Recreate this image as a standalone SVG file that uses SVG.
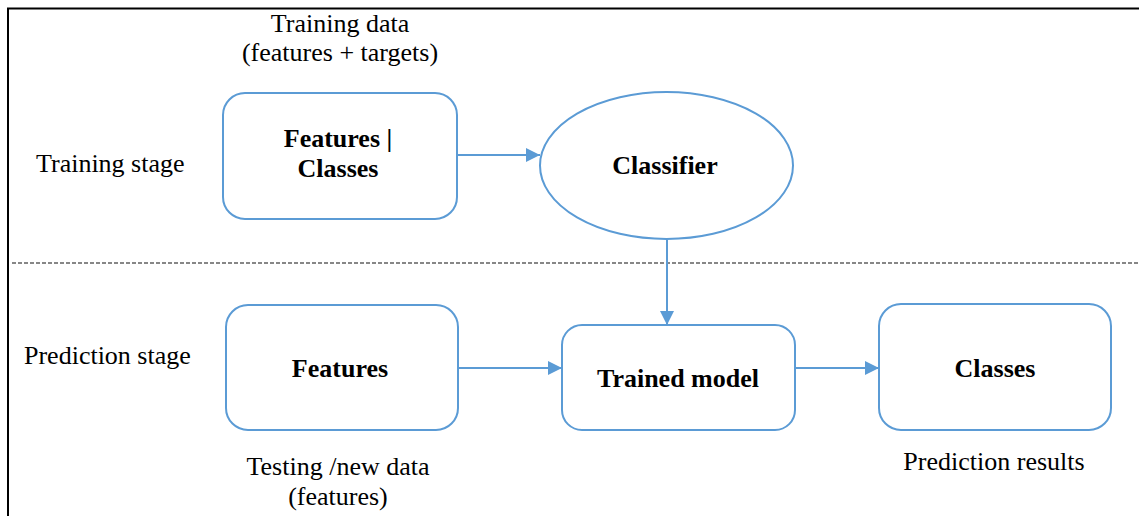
<svg xmlns="http://www.w3.org/2000/svg" width="1139" height="516" viewBox="0 0 1139 516">
  <style>
    .box { fill: #ffffff; stroke: #5b9bd5; stroke-width: 2; }
    .edge { fill: none; stroke: #5b9bd5; stroke-width: 2; }
    .bold { font-weight: bold; }
    .mid { text-anchor: middle; }
  </style>
  <defs>
    <marker id="arrowHead" viewBox="0 0 14 14" refX="14" refY="7" markerWidth="14" markerHeight="14" markerUnits="userSpaceOnUse" orient="auto">
      <path d="M0,0 L14,7 L0,14 Z" fill="#5b9bd5"/>
    </marker>
  </defs>

  <rect width="1139" height="516" fill="#ffffff"/>

  <!-- outer frame: top and left edges -->
  <g id="frame" stroke="#000000" stroke-width="2" fill="none">
    <line x1="7" y1="8.5" x2="1139" y2="8.5"/>
    <line x1="8" y1="8" x2="8" y2="516"/>
  </g>

  <!-- stage separator -->
  <line id="separator" x1="12" y1="263" x2="1139" y2="263" stroke="#111111" stroke-width="1.2" stroke-dasharray="4 2"/>

  <g font-family="Liberation Serif" font-size="26" fill="#000000">
    <!-- stage labels and captions -->
    <g id="captions">
      <text class="mid" x="340" y="32">Training data</text>
      <text class="mid" x="340" y="61">(features + targets)</text>
      <text x="36" y="172">Training stage</text>
      <text x="24" y="364">Prediction stage</text>
      <text class="mid" x="338" y="475">Testing /new data</text>
      <text class="mid" x="338" y="505">(features)</text>
      <text class="mid" x="994" y="470">Prediction results</text>
    </g>

    <g id="node-features-classes">
      <rect class="box" x="223" y="93" width="234" height="126" rx="22"/>
      <text class="bold mid" x="338" y="147">Features |</text>
      <text class="bold mid" x="338" y="177">Classes</text>
    </g>

    <g id="node-classifier">
      <ellipse class="box" cx="666.5" cy="165.5" rx="126.5" ry="73.5"/>
      <text class="bold mid" x="665" y="174">Classifier</text>
    </g>

    <g id="node-features">
      <rect class="box" x="226" y="305" width="232" height="125" rx="22"/>
      <text class="bold mid" x="340" y="377">Features</text>
    </g>

    <g id="node-trained-model">
      <rect class="box" x="562" y="325" width="233" height="105" rx="20"/>
      <text class="bold mid" x="678" y="387">Trained model</text>
    </g>

    <g id="node-classes">
      <rect class="box" x="879" y="304" width="232" height="126" rx="22"/>
      <text class="bold mid" x="995" y="377">Classes</text>
    </g>
  </g>

  <!-- connectors -->
  <g id="connectors">
    <line class="edge" x1="457" y1="155" x2="540" y2="155" marker-end="url(#arrowHead)"/>
    <line class="edge" x1="667" y1="240" x2="667" y2="325" marker-end="url(#arrowHead)"/>
    <line class="edge" x1="458" y1="368" x2="562" y2="368" marker-end="url(#arrowHead)"/>
    <line class="edge" x1="796" y1="368" x2="879" y2="368" marker-end="url(#arrowHead)"/>
  </g>
</svg>
